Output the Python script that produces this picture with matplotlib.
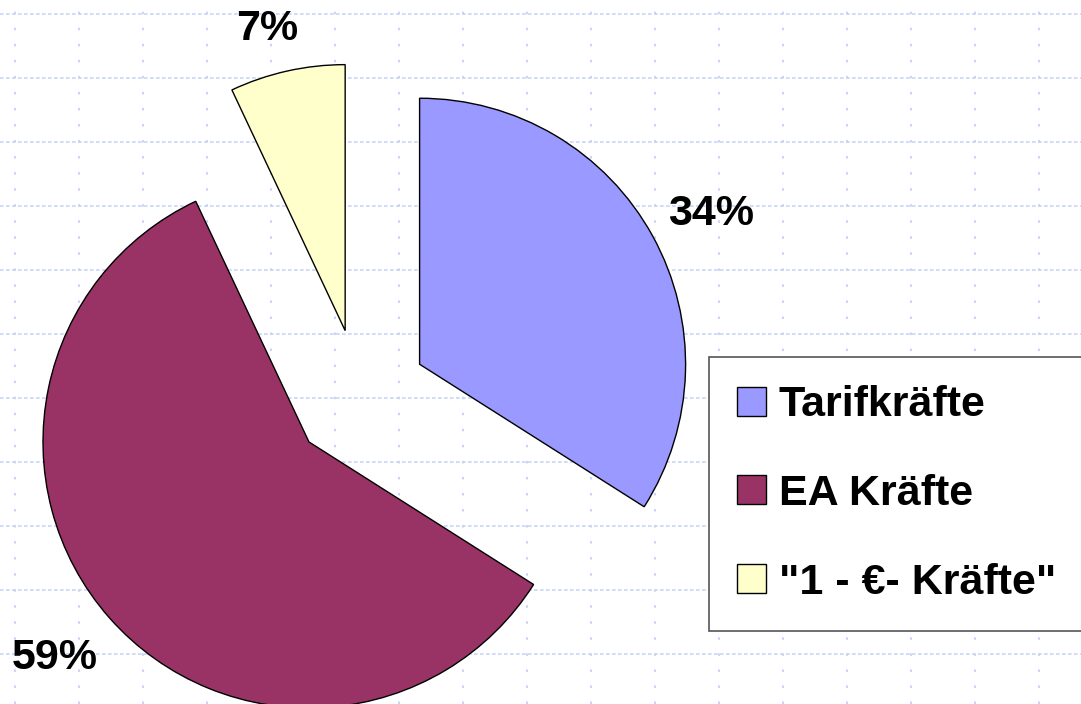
import matplotlib
matplotlib.use("Agg")
import matplotlib.pyplot as plt
import numpy as np

categories = ["Tarifkräfte", "EA Kräfte", "\"1 - €- Kräfte\""]
values = [34, 59, 7]
colors = ["#9999FF", "#993366", "#FFFFCC"]

W, H = 1081, 704
fig = plt.figure(figsize=(W / 100, H / 100), dpi=100)
ax = fig.add_axes([0, 0, 1, 1])

font = ["Liberation Sans", "DejaVu Sans"]
grid_col = "#c9d5f7"

# background dotted grid
for yp in range(14, H, 64):
    ax.axhline(H - yp, color=grid_col, lw=1.2, linestyle=(0, (2.2, 1.4)), zorder=0)
for xp in range(15, W, 64):
    ax.axvline(xp, color=grid_col, lw=1.5, linestyle=(0, (1.2, 6.5)), zorder=0)

radius = 266
center = (360, H - 397)
wedges, texts, autotexts = ax.pie(
    values, colors=colors, startangle=90, counterclock=False,
    explode=[68, 68, 68], radius=radius, center=center,
    wedgeprops=dict(edgecolor="black", linewidth=1.0),
    autopct="%1.0f%%", pctdistance=1.23,
    textprops=dict(fontsize=31, fontweight="bold", family=font),
)
# per-label distance / angle offset relative to each wedge's bisector
label_dist = [1.232, 1.253, 1.171]
label_dang = [-1.5, -1.0, 1.9]
for w, t, d, da in zip(wedges, autotexts, label_dist, label_dang):
    th = np.deg2rad(0.5 * (w.theta1 + w.theta2) + da)
    cx, cy = w.center
    t.set_position((cx + d * radius * np.cos(th), cy + d * radius * np.sin(th)))
    t.set_ha("center")
    t.set_va("center")

ax.set_xlim(0, W)
ax.set_ylim(0, H)
ax.set_aspect("equal")
ax.axis("off")

leg = ax.legend(
    wedges, categories, loc="upper left",
    bbox_to_anchor=(709 / W, 1 - 357 / H), bbox_transform=fig.transFigure,
    borderaxespad=0, frameon=True, fancybox=False, framealpha=1,
    edgecolor="#555555", borderpad=0.66, handlelength=0.66, handleheight=0.66,
    handletextpad=0.3, labelspacing=1.13,
    prop=dict(family=font, size=31, weight="bold"),
)
leg.get_frame().set_linewidth(1.2)
for h in leg.legend_handles:
    h.set_edgecolor("black")
    h.set_linewidth(1.0)

fig.savefig("out.png", dpi=100)
